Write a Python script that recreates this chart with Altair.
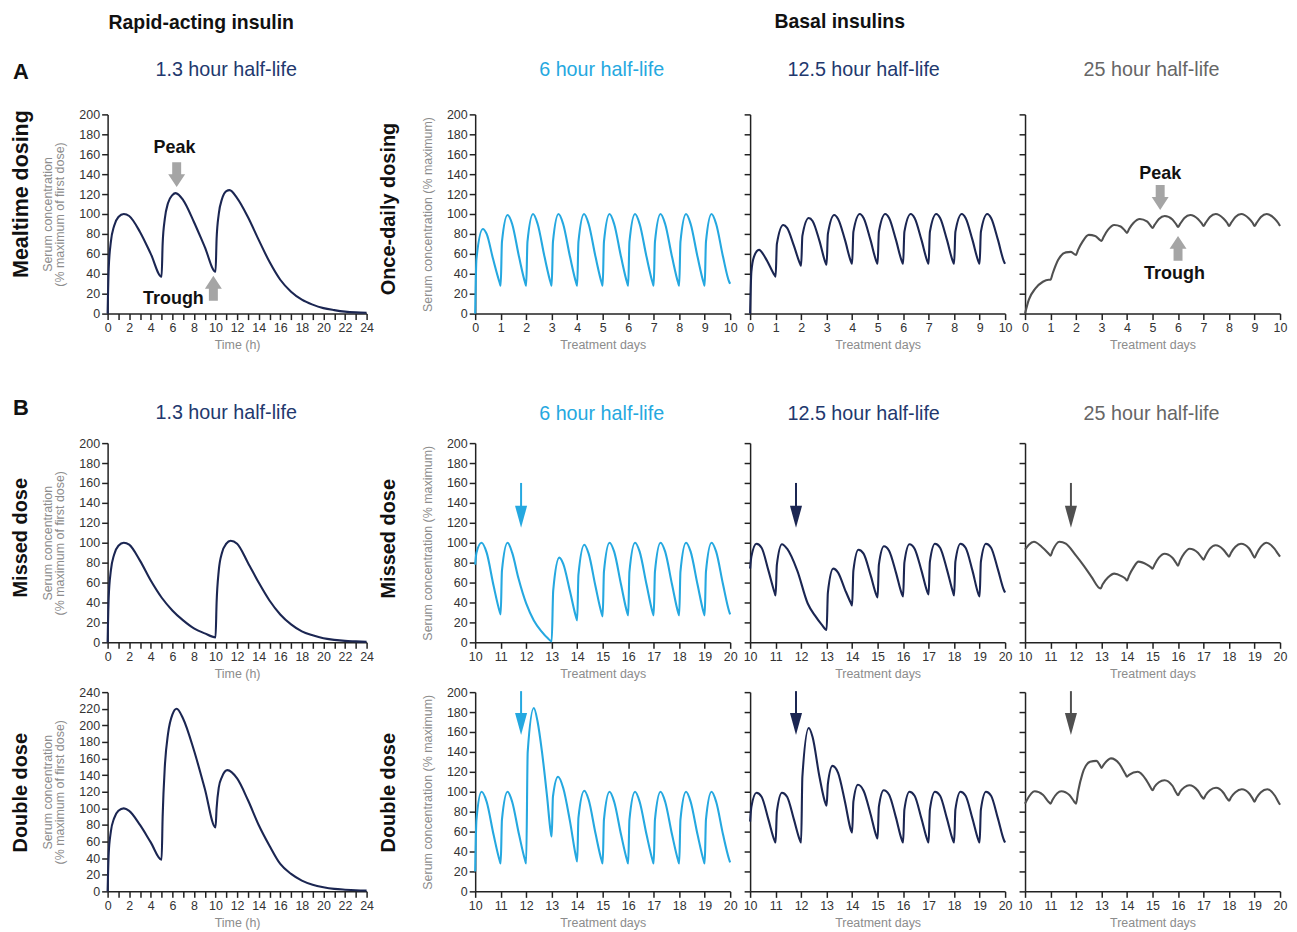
import altair as alt
import pandas as pd

FONT = "Liberation Sans"
NAVY = "#1b2652"
NAVY_T = "#22386e"
BLUE = "#25a8e0"
GREY_LINE = "#505050"
GREY_T = "#666666"
ARROW_GREY = "#a5a5a5"
INK = "#111111"
AX = "#222222"
LBL = "#333333"
TTL = "#8c8c8c"

# ---------------- rapid-acting insulin (hours) ----------------
RAPID_MEAL_T = [0, 0.1, 0.3, 0.6, 1.0, 1.5, 2.0, 3.0, 4.0, 5.0, 5.1, 5.3, 5.6, 6.0, 6.3, 7.0, 8.0, 9.0, 10.0,
                10.1, 10.3, 10.6, 11.0, 11.3, 12.0, 13.0, 14.0, 15.0, 16.0, 17.0, 18.0, 19.0, 20.0, 21.0, 22.0, 23.0, 24.0]
RAPID_MEAL_V = [0, 45, 72, 88, 97, 100, 98, 82, 60, 37, 70, 95, 111, 119, 121, 114, 92, 67, 42,
                75, 100, 115, 123, 124, 116, 97, 74, 52, 34, 22, 14, 9, 5.5, 3.5, 2, 1.2, 0.8]

RAPID_MISS_T = [0, 0.1, 0.3, 0.6, 1.0, 1.5, 2.0, 3.0, 4.0, 5.0, 6.0, 7.0, 8.0, 9.0, 10.0,
                10.1, 10.3, 10.6, 11.0, 11.4, 12.0, 13.0, 14.0, 15.0, 16.0, 17.0, 18.0, 19.0, 20.0, 21.0, 22.0, 23.0, 24.0]
RAPID_MISS_V = [0, 45, 72, 88, 97, 100, 98, 82, 62, 45, 32, 22, 14, 9, 5,
                40, 72, 90, 99, 102, 99, 80, 60, 42, 28, 18, 11, 7, 4, 2.5, 1.5, 1, 0.5]

RAPID_DBL_T = [0, 0.1, 0.3, 0.6, 1.0, 1.5, 2.0, 3.0, 4.0, 5.0, 5.1, 5.3, 5.6, 6.0, 6.4, 7.0, 8.0, 9.0, 10.0,
               10.1, 10.3, 10.6, 11.1, 12.0, 13.0, 14.0, 15.0, 16.0, 17.0, 18.0, 19.0, 20.0, 21.0, 22.0, 23.0, 24.0]
RAPID_DBL_V = [0, 45, 72, 88, 97, 100, 97, 80, 59, 38, 90, 150, 190, 213, 220, 208, 170, 124, 77,
               100, 125, 138, 146, 136, 110, 80, 55, 33, 21, 13, 8, 5, 3, 2, 1.3, 1]

# ---------------- basal insulins, once-daily (days 0-10) ----------------
H6A_T = [0, 0.05, 0.3, 0.45, 0.7, 0.96,
         1, 1.05, 1.27, 1.45, 1.72, 1.96,
         2, 2.05, 2.27, 2.45, 2.72, 2.96,
         3, 3.05, 3.27, 3.45, 3.72, 3.96,
         4, 4.05, 4.27, 4.45, 4.72, 4.96,
         5, 5.05, 5.27, 5.45, 5.72, 5.96,
         6, 6.05, 6.27, 6.45, 6.72, 6.96,
         7, 7.05, 7.27, 7.45, 7.72, 7.96,
         8, 8.05, 8.27, 8.45, 8.72, 8.96,
         9, 9.05, 9.27, 9.45, 9.72, 9.96,
         10]
H6A_V = [0, 55, 85, 80, 55, 31,
         28, 72, 99, 90, 57, 31,
         28, 72, 100, 90, 57, 31,
         28, 72, 100, 90, 57, 31,
         28, 72, 100, 90, 57, 31,
         28, 72, 100, 90, 57, 31,
         28, 72, 100, 90, 57, 31,
         28, 72, 100, 90, 57, 31,
         28, 72, 100, 90, 57, 31,
         28, 72, 100, 90, 57, 32,
         30]

H12A_T = [0, 0.05, 0.15, 0.35, 0.6, 0.96,
          1, 1.05, 1.3, 1.45, 1.72, 1.96,
          2, 2.05, 2.3, 2.45, 2.72, 2.96,
          3, 3.05, 3.3, 3.45, 3.72, 3.96,
          4, 4.05, 4.3, 4.45, 4.72, 4.96,
          5, 5.05, 5.3, 5.45, 5.72, 5.96,
          6, 6.05, 6.3, 6.45, 6.72, 6.96,
          7, 7.05, 7.3, 7.45, 7.72, 7.96,
          8, 8.05, 8.3, 8.45, 8.72, 8.96,
          9, 9.05, 9.3, 9.45, 9.72, 9.96,
          10]
H12A_V = [0, 42, 57, 64, 56, 38.5,
          37, 70, 89, 86, 68, 50,
          48, 78, 96, 93, 73, 51,
          49, 80, 99, 95, 74, 52,
          50, 82, 100, 96, 74, 52,
          50, 82, 100, 96, 74, 52,
          50, 82, 100, 96, 74, 52,
          50, 82, 100, 96, 74, 52,
          50, 82, 100, 96, 74, 52,
          50, 82, 100, 96, 74, 52,
          50]

H25A_T = [0, 0.15, 0.4, 0.7, 0.93,
          1, 1.08, 1.3, 1.6, 1.8, 1.95,
          2, 2.08, 2.25, 2.5, 2.75, 2.93,
          3, 3.08, 3.25, 3.5, 3.75, 3.93,
          4, 4.08, 4.25, 4.5, 4.78, 4.93,
          5, 5.08, 5.25, 5.48, 5.78, 5.93,
          6, 6.08, 6.25, 6.48, 6.78, 6.93,
          7, 7.08, 7.25, 7.48, 7.78, 7.93,
          8, 8.08, 8.25, 8.48, 8.78, 8.93,
          9, 9.08, 9.25, 9.48, 9.78, 9.93,
          10]
H25A_V = [0, 14, 25, 32, 34,
          34, 40, 54, 61.5, 62, 59.5,
          59, 64, 72, 79, 78, 74,
          73, 77, 84, 89, 87.5, 83,
          81, 85, 91, 95, 92.5, 88,
          86, 89, 95, 98, 94.5, 89.5,
          87, 90, 96, 99, 95, 90.5,
          88, 91, 97, 100, 95.5, 91,
          88, 91, 97, 100, 95.5, 91,
          88, 91, 97, 100, 95.5, 91,
          88]

# ---------------- missed dose (days 10-20) ----------------
H6M_T = [10, 10.05, 10.25, 10.45, 10.72, 10.96,
         11, 11.05, 11.27, 11.45, 11.7, 12.0, 12.3, 12.6, 12.85, 13,
         13.06, 13.3, 13.45, 13.72, 13.96,
         14, 14.05, 14.28, 14.45, 14.72, 14.96,
         15, 15.05, 15.27, 15.45, 15.72, 15.96,
         16, 16.05, 16.27, 16.45, 16.72, 16.96,
         17, 17.05, 17.27, 17.45, 17.72, 17.96,
         18, 18.05, 18.27, 18.45, 18.72, 18.96,
         19, 19.05, 19.27, 19.45, 19.72, 19.96,
         20]
H6M_V = [78, 90, 100, 90, 57, 31,
         28, 72, 100, 90, 64, 39, 22, 11, 4, 1,
         52, 85, 79, 51, 25,
         22, 68, 98, 89, 56, 29,
         26, 71, 100, 91, 58, 30,
         27, 71, 100, 91, 58, 30,
         27, 71, 100, 91, 58, 30,
         27, 71, 100, 91, 58, 30,
         27, 71, 100, 91, 58, 31,
         28]

H12M_T = [10, 10.05, 10.25, 10.45, 10.72, 10.96,
          11, 11.05, 11.25, 11.45, 11.85, 12.26, 12.54, 12.8, 13,
          13.05, 13.26, 13.45, 13.72, 13.96,
          14, 14.05, 14.25, 14.45, 14.72, 14.96,
          15, 15.05, 15.25, 15.45, 15.72, 15.96,
          16, 16.05, 16.25, 16.45, 16.72, 16.96,
          17, 17.05, 17.25, 17.45, 17.72, 17.96,
          18, 18.05, 18.25, 18.45, 18.72, 18.96,
          19, 19.05, 19.25, 19.45, 19.72, 19.96,
          20]
H12M_V = [74, 86, 99, 95, 72, 50,
          47, 78, 98.5, 94, 72, 39, 27, 18, 12.5,
          50, 74, 70, 53, 39,
          37, 72, 93, 89, 68, 47,
          45, 78, 96.5, 92, 70, 48,
          46, 80, 98.5, 94, 72, 50,
          48, 81, 99, 95, 73, 50,
          47, 81, 99, 95, 72, 48,
          46, 81, 99, 95, 73, 52,
          50]

H25M_T = [10, 10.15, 10.35, 10.65, 10.93,
          11, 11.08, 11.35, 11.6, 12.0, 12.3, 12.6, 12.96,
          13.04, 13.25, 13.5, 13.78, 13.93,
          14, 14.08, 14.25, 14.45, 14.78, 14.93,
          15, 15.08, 15.25, 15.47, 15.78, 15.93,
          16, 16.08, 16.25, 16.45, 16.78, 16.93,
          17, 17.08, 17.25, 17.47, 17.78, 17.93,
          18, 18.08, 18.25, 18.47, 18.78, 18.93,
          19, 19.08, 19.25, 19.47, 19.78, 19.93,
          20]
H25M_V = [93, 98, 101, 96, 89,
          87, 92, 101, 99, 87, 77, 66, 54,
          58, 65, 69, 66.5, 64,
          62, 67, 75, 81, 78, 75.5,
          74, 78, 85, 89, 85, 79.5,
          77, 82, 89.5, 94, 90, 85,
          83, 87, 94, 97.5, 93, 88,
          86, 90, 96, 99, 94.5, 88,
          85, 89, 96, 100, 94, 88.5,
          86]

# ---------------- double dose (days 10-20) ----------------
H6D_T = [10, 10.05, 10.25, 10.45, 10.72, 10.96,
         11, 11.05, 11.27, 11.45, 11.72, 11.96,
         12, 12.06, 12.3, 12.45, 12.62, 12.82, 12.96,
         13, 13.05, 13.25, 13.45, 13.72, 13.96,
         14, 14.05, 14.28, 14.45, 14.72, 14.96,
         15, 15.05, 15.27, 15.45, 15.72, 15.96,
         16, 16.05, 16.27, 16.45, 16.72, 16.96,
         17, 17.05, 17.27, 17.45, 17.72, 17.96,
         18, 18.05, 18.27, 18.45, 18.72, 18.96,
         19, 19.05, 19.27, 19.45, 19.72, 19.96,
         20]
H6D_V = [20, 72, 100, 90, 57, 31,
         28, 72, 100, 90, 57, 31,
         28, 140, 184, 170, 140, 95, 60,
         55, 95, 115, 104, 70, 34,
         30, 74, 101, 92, 58, 31,
         28, 72, 100, 90, 57, 31,
         28, 72, 100, 90, 57, 31,
         28, 72, 100, 90, 57, 31,
         28, 72, 100, 90, 57, 31,
         28, 72, 100, 90, 57, 32,
         29]

H12D_T = [10, 10.05, 10.25, 10.45, 10.72, 10.96,
          11, 11.05, 11.25, 11.45, 11.72, 11.96,
          12, 12.05, 12.3, 12.45, 12.72, 12.96,
          13, 13.05, 13.23, 13.45, 13.72, 13.96,
          14, 14.05, 14.23, 14.45, 14.72, 14.96,
          15, 15.05, 15.24, 15.45, 15.72, 15.96,
          16, 16.05, 16.25, 16.45, 16.72, 16.96,
          17, 17.05, 17.25, 17.45, 17.72, 17.96,
          18, 18.05, 18.25, 18.45, 18.72, 18.96,
          19, 19.05, 19.25, 19.45, 19.72, 19.96,
          20]
H12D_V = [70, 85, 99, 95, 72, 51,
          49, 80, 99, 95, 72, 51,
          49, 115, 164, 155, 115, 88,
          86, 108, 126, 119, 90, 61,
          59, 90, 107, 101, 78, 55,
          53, 85, 101.5, 97, 74, 51,
          49, 82, 100, 96, 73, 51,
          49, 82, 100, 96, 73, 51,
          49, 82, 100, 96, 73, 51,
          49, 82, 100, 96, 73, 51,
          49]

H25D_T = [10, 10.08, 10.38, 10.7, 10.92,
          11, 11.08, 11.42, 11.75, 11.93,
          12, 12.08, 12.25, 12.55, 12.8, 12.93,
          13, 13.08, 13.37, 13.7, 13.93,
          14, 14.08, 14.42, 14.75, 14.93,
          15, 15.08, 15.25, 15.47, 15.78, 15.93,
          16, 16.08, 16.25, 16.44, 16.78, 16.93,
          17, 17.08, 17.25, 17.49, 17.78, 17.93,
          18, 18.08, 18.25, 18.5, 18.8, 18.93,
          19, 19.08, 19.25, 19.5, 19.8, 19.93,
          20]
H25D_V = [88, 92, 100.5, 97, 90,
          88, 92, 100.5, 96.5, 90,
          88, 100, 118, 130, 131, 127,
          124, 127, 133.5, 128, 118,
          115, 117, 120, 112, 104,
          101.5, 105, 109.5, 111.6, 106, 99,
          96.5, 100, 104.5, 106.6, 101, 95,
          93, 96.5, 101.5, 104, 99, 93,
          91, 94.5, 99.5, 102.5, 98, 93,
          90, 94, 99.5, 102.5, 96, 90,
          87]

# ---------------- annotation anchors (data units) ----------------
RAPID_PEAK_ARROW = (6.4, 127)
RAPID_TROUGH_ARROW = (9.8, 38)
RAPID_PEAK_TEXT = (6.2, 166)
RAPID_TROUGH_TEXT = (6.1, 15)
L25_PEAK_ARROW = (5.3, 104)
L25_TROUGH_ARROW = (6.0, 78)
L25_PEAK_TEXT = (5.3, 140)
L25_TROUGH_TEXT = (5.86, 40)
EVENT_DAY = 11.8
MISSED_ARROW = (160, 115)
DOUBLE_ARROW = (201, 157)

DOWN_BLOCK = "M0,0L0.68,-1.04L0.36,-1.04L0.36,-2L-0.36,-2L-0.36,-1.04L-0.68,-1.04Z"
UP_BLOCK = "M0,0L0.68,1.04L0.36,1.04L0.36,2L-0.36,2L-0.36,1.04L-0.68,1.04Z"
THIN_HEAD = "M0,0L0.55,-2L-0.55,-2Z"

W1, W = 260, 256
H = 200

RAPID_Y_TITLE = ["Serum concentration", "(% maximum of first dose)"]
BASAL_Y_TITLE = "Serum concentration (% maximum)"
HOURS = list(range(0, 25))
DAYS_A = list(range(0, 11))
DAYS_B = list(range(10, 21))


def base_axis(**kw):
    d = dict(grid=False, domainColor=AX, domainWidth=1.5, tickColor=AX, tickWidth=1.5, tickSize=6,
             labelFont=FONT, labelFontSize=12.5, labelColor=LBL, labelPadding=2, labelFlush=False,
             labelOverlap=False, titleFont=FONT, titleColor=TTL, titleFontWeight="normal")
    d.update(kw)
    return alt.Axis(**d)


def x_axis(values, title, every_other=False):
    kw = dict(values=values, title=title, titleFontSize=12.5, titlePadding=5)
    if every_other:
        kw["labelExpr"] = "datum.value % 2 == 0 ? datum.label : ''"
    return base_axis(**kw)


def y_axis(maxv, title=None, labels=True):
    return base_axis(values=list(range(0, maxv + 1, 20)), title=title, labels=labels,
                     titleFontSize=12.5, titleLineHeight=12.5, titlePadding=12)


class Panel:
    def __init__(self, xdom, ydom, xax, yax):
        self.xdom, self.ydom, self.xax, self.yax = xdom, ydom, xax, yax
        self.layers = []

    def X(self, f):
        return alt.X(f + ":Q", scale=alt.Scale(domain=self.xdom, nice=False, zero=False), axis=self.xax)

    def Y(self, f):
        return alt.Y(f + ":Q", scale=alt.Scale(domain=self.ydom, nice=False, zero=False), axis=self.yax)

    def line(self, xs, ys, color):
        df = pd.DataFrame({"x": xs, "y": ys})
        self.layers.append(alt.Chart(df).mark_line(color=color, strokeWidth=2.1, interpolate="monotone").encode(
            x=self.X("x"), y=self.Y("y")))
        return self

    def dtxt(self, s, pos, size=18):
        df = pd.DataFrame({"s": [s], "x": [pos[0]], "y": [pos[1]]})
        self.layers.append(alt.Chart(df).mark_text(
            font=FONT, fontSize=size, fontWeight="bold", color=INK, align="center", baseline="middle").encode(
            text="s:N", x=self.X("x"), y=self.Y("y")))
        return self

    def block(self, pos, shape):
        df = pd.DataFrame({"x": [pos[0]], "y": [pos[1]]})
        self.layers.append(alt.Chart(df).mark_point(
            shape=shape, size=625, filled=True, color=ARROW_GREY, opacity=1, strokeWidth=0).encode(
            x=self.X("x"), y=self.Y("y")))
        return self

    def thin_arrow(self, xday, span, color):
        top, tip = span
        df = pd.DataFrame({"x": [xday], "a": [top], "b": [tip + 12]})
        self.layers.append(alt.Chart(df).mark_rule(color=color, strokeWidth=2).encode(
            x=self.X("x"), y=self.Y("a"), y2="b:Q"))
        df2 = pd.DataFrame({"x": [xday], "y": [tip]})
        self.layers.append(alt.Chart(df2).mark_point(
            shape=THIN_HEAD, size=484, filled=True, color=color, opacity=1, strokeWidth=0).encode(
            x=self.X("x"), y=self.Y("y")))
        return self

    def txt(self, s, px, py, size, color, weight="normal", angle=0):
        kw = dict(font=FONT, fontSize=size, color=color, fontWeight=weight, align="center", baseline="middle")
        if angle:
            kw["angle"] = angle
        self.layers.append(alt.Chart(pd.DataFrame({"s": [s]})).mark_text(**kw).encode(
            text="s:N", x=alt.value(px), y=alt.value(py)))
        return self

    def chart(self, w):
        return alt.layer(*self.layers).properties(width=w, height=H)


def rapid(ymax):
    return Panel([0, 24], [0, ymax], x_axis(HOURS, "Time (h)", True), y_axis(ymax, RAPID_Y_TITLE))


def basal(days, labelled):
    dom = [days[0], days[-1]]
    if labelled:
        return Panel(dom, [0, 200], x_axis(days, "Treatment days"), y_axis(200, BASAL_Y_TITLE))
    return Panel(dom, [0, 200], x_axis(days, "Treatment days"), y_axis(200, None, False))


TS = 19.8   # panel title size
HS = 19.5   # header size

# ---------------- row A ----------------
pA1 = (rapid(200).line(RAPID_MEAL_T, RAPID_MEAL_V, NAVY)
       .block(RAPID_PEAK_ARROW, DOWN_BLOCK).block(RAPID_TROUGH_ARROW, UP_BLOCK)
       .dtxt("Peak", RAPID_PEAK_TEXT).dtxt("Trough", RAPID_TROUGH_TEXT)
       .txt("Rapid-acting insulin", 94, -92, HS, INK, "bold")
       .txt("A", -87, -43, 22, INK, "bold")
       .txt("1.3 hour half-life", 119, -45, TS, NAVY_T)
       .txt("Mealtime dosing", -86, 80, 21.5, INK, "bold", 270)).chart(W1)

pA2 = (basal(DAYS_A, True).line(H6A_T, H6A_V, BLUE)
       .txt("6 hour half-life", 127, -45, TS, BLUE)
       .txt("Once-daily dosing", -86, 95, 20, INK, "bold", 270)).chart(W)

pA3 = (basal(DAYS_A, False).line(H12A_T, H12A_V, NAVY)
       .txt("12.5 hour half-life", 114, -45, TS, NAVY_T)
       .txt("Basal insulins", 90, -93, HS, INK, "bold")).chart(W)

pA4 = (basal(DAYS_A, False).line(H25A_T, H25A_V, GREY_LINE)
       .block(L25_PEAK_ARROW, DOWN_BLOCK).block(L25_TROUGH_ARROW, UP_BLOCK)
       .dtxt("Peak", L25_PEAK_TEXT).dtxt("Trough", L25_TROUGH_TEXT)
       .txt("25 hour half-life", 127, -45, TS, GREY_T)).chart(W)

# ---------------- row B: missed dose ----------------
pB1 = (rapid(200).line(RAPID_MISS_T, RAPID_MISS_V, NAVY)
       .txt("B", -87, -35, 22, INK, "bold")
       .txt("1.3 hour half-life", 119, -30, TS, NAVY_T)
       .txt("Missed dose", -87, 95, 20, INK, "bold", 270)).chart(W1)

pB2 = (basal(DAYS_B, True).line(H6M_T, H6M_V, BLUE)
       .thin_arrow(EVENT_DAY, MISSED_ARROW, BLUE)
       .txt("6 hour half-life", 127, -29, TS, BLUE)
       .txt("Missed dose", -86, 96, 20, INK, "bold", 270)).chart(W)

pB3 = (basal(DAYS_B, False).line(H12M_T, H12M_V, NAVY)
       .thin_arrow(EVENT_DAY, MISSED_ARROW, NAVY)
       .txt("12.5 hour half-life", 114, -29, TS, NAVY_T)).chart(W)

pB4 = (basal(DAYS_B, False).line(H25M_T, H25M_V, GREY_LINE)
       .thin_arrow(EVENT_DAY, MISSED_ARROW, GREY_LINE)
       .txt("25 hour half-life", 127, -29, TS, GREY_T)).chart(W)

# ---------------- row B: double dose ----------------
pC1 = (rapid(240).line(RAPID_DBL_T, RAPID_DBL_V, NAVY)
       .txt("Double dose", -87, 101, 20, INK, "bold", 270)).chart(W1)

pC2 = (basal(DAYS_B, True).line(H6D_T, H6D_V, BLUE)
       .thin_arrow(EVENT_DAY, DOUBLE_ARROW, BLUE)
       .txt("Double dose", -86, 101, 20, INK, "bold", 270)).chart(W)

pC3 = (basal(DAYS_B, False).line(H12D_T, H12D_V, NAVY)
       .thin_arrow(EVENT_DAY, DOUBLE_ARROW, NAVY)).chart(W)

pC4 = (basal(DAYS_B, False).line(H25D_T, H25D_V, GREY_LINE)
       .thin_arrow(EVENT_DAY, DOUBLE_ARROW, GREY_LINE)).chart(W)

rowA = alt.hconcat(pA1, pA2, pA3, pA4, spacing=6)
rowB = alt.hconcat(pB1, pB2, pB3, pB4, spacing=6)
rowC = alt.hconcat(pC1, pC2, pC3, pC4, spacing=6)

chart = alt.vconcat(rowA, alt.vconcat(rowB, rowC, spacing=6), spacing=46).properties(
    padding={"left": 3, "top": 2, "right": 2, "bottom": 2}
).configure_view(stroke=None)

chart.save("out.html", embed_options={"renderer": "svg", "actions": False})
